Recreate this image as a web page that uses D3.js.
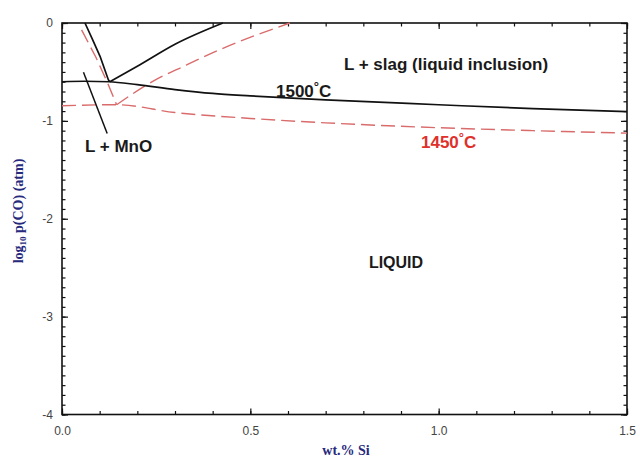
<!DOCTYPE html>
<html>
<head>
<meta charset="utf-8">
<script src="https://cdn.jsdelivr.net/npm/d3@7"></script>
<style>
  html, body { margin: 0; padding: 0; background: #fff; }
  svg { display: block; }
  .tick text { font-family: "Liberation Sans", Arial, sans-serif; font-size: 12px; fill: #444; }
</style>
</head>
<body>
<svg id="chart" width="640" height="460"></svg>
<script>
// Phase boundaries of Fe–Si–Mn–O melt: log10 p(CO) vs wt.% Si

// 1500 °C, liquid / L + slag boundary (lower branch)
const slag1500Si  = [0, 0.06, 0.125, 0.2, 0.3, 0.4, 0.5, 0.7, 1.0, 1.25, 1.5];
const slag1500Pco = [-0.60, -0.595, -0.60, -0.63, -0.68, -0.72, -0.745, -0.785, -0.835, -0.875, -0.905];
// 1500 °C, upper branch rising from the triple point
const upper1500Si  = [0.127, 0.207, 0.3, 0.427];
const upper1500Pco = [-0.60, -0.426, -0.217, 0];
// 1500 °C, steep MnO boundary
const mno1500Si  = [0.061, 0.08, 0.101, 0.123, 0.127];
const mno1500Pco = [0, -0.16, -0.34, -0.58, -0.60];

// 1450 °C, liquid / L + slag boundary
const slag1450Si  = [0, 0.145, 0.3, 0.5, 0.7, 1.0, 1.25, 1.5];
const slag1450Pco = [-0.845, -0.835, -0.915, -0.975, -1.02, -1.07, -1.10, -1.125];
// 1450 °C, upper branch
const upper1450Si  = [0.145, 0.241, 0.33, 0.419, 0.605];
const upper1450Pco = [-0.835, -0.596, -0.43, -0.272, 0];
// 1450 °C, steep MnO boundary
const mno1450Si  = [0.052, 0.09, 0.123, 0.145];
const mno1450Pco = [-0.07, -0.35, -0.63, -0.835];

// leader line for the "L + MnO" label
const leaderSi  = [0.057, 0.12];
const leaderPco = [-0.504, -1.13];

// axis ticks
const xMajorTicks = [0, 0.5, 1.0, 1.5];
const xTickLabels = ["0.0", "0.5", "1.0", "1.5"];
const yMajorTicks = [0, -1, -2, -3, -4];
const yTickLabels = ["0", "-1", "-2", "-3", "-4"];

const svg = d3.select("#chart");
const plotLeft = 62, plotRight = 627, plotTop = 23, plotBottom = 414.5;

const x = d3.scaleLinear().domain([0, 1.5]).range([plotLeft, plotRight]);
const y = d3.scaleLinear().domain([-4, 0]).range([plotBottom, plotTop]);

const xMinor = d3.range(0, 1.5001, 0.1).map(v => +v.toFixed(2));
const yMinor = d3.range(-4, 0.0001, 0.1).map(v => +v.toFixed(2));

// frame
svg.append("rect")
  .attr("x", plotLeft).attr("y", plotTop)
  .attr("width", plotRight - plotLeft).attr("height", plotBottom - plotTop)
  .attr("fill", "none").attr("stroke", "#111").attr("stroke-width", 1.6);

function styleAxis(g) {
  g.select(".domain").remove();
  g.selectAll(".tick line").attr("stroke", "#111").attr("stroke-width", 1.2);
}

// bottom axis (inward ticks)
svg.append("g").attr("transform", `translate(0,${plotBottom})`)
  .call(d3.axisBottom(x).tickValues(xMinor).tickSize(-3.5).tickFormat(""))
  .call(styleAxis);
svg.append("g").attr("transform", `translate(0,${plotBottom})`)
  .call(d3.axisBottom(x).tickValues(xMajorTicks).tickSize(-6).tickPadding(12)
    .tickFormat((d, i) => xTickLabels[i]))
  .call(styleAxis);
// top axis
svg.append("g").attr("transform", `translate(0,${plotTop})`)
  .call(d3.axisTop(x).tickValues(xMinor).tickSize(-3.5).tickFormat(""))
  .call(styleAxis);
svg.append("g").attr("transform", `translate(0,${plotTop})`)
  .call(d3.axisTop(x).tickValues(xMajorTicks).tickSize(-6).tickFormat(""))
  .call(styleAxis);
// left axis
svg.append("g").attr("transform", `translate(${plotLeft},0)`)
  .call(d3.axisLeft(y).tickValues(yMinor).tickSize(-3.5).tickFormat(""))
  .call(styleAxis);
svg.append("g").attr("transform", `translate(${plotLeft},0)`)
  .call(d3.axisLeft(y).tickValues(yMajorTicks).tickSize(-6).tickPadding(9)
    .tickFormat((d, i) => yTickLabels[i]))
  .call(styleAxis);
// right axis
svg.append("g").attr("transform", `translate(${plotRight},0)`)
  .call(d3.axisRight(y).tickValues(yMinor).tickSize(-3.5).tickFormat(""))
  .call(styleAxis);
svg.append("g").attr("transform", `translate(${plotRight},0)`)
  .call(d3.axisRight(y).tickValues(yMajorTicks).tickSize(-6).tickFormat(""))
  .call(styleAxis);

// boundary curves
const line = d3.line().x(d => x(d[0])).y(d => y(d[1])).curve(d3.curveMonotoneX);
const straight = d3.line().x(d => x(d[0])).y(d => y(d[1])).curve(d3.curveLinear);
const zip = (a, b) => a.map((v, i) => [v, b[i]]);

const dashed = { stroke: "#da6b6b", width: 1.4, dash: "14,6" };
const solid = { stroke: "#111", width: 1.7, dash: null };

function drawCurve(xs, ys, st, gen) {
  svg.append("path")
    .attr("d", gen(zip(xs, ys)))
    .attr("fill", "none")
    .attr("stroke", st.stroke)
    .attr("stroke-width", st.width)
    .attr("stroke-dasharray", st.dash)
    .attr("stroke-linejoin", "round");
}

drawCurve(slag1450Si, slag1450Pco, dashed, line);
drawCurve(upper1450Si, upper1450Pco, dashed, line);
drawCurve(mno1450Si, mno1450Pco, dashed, straight);

drawCurve(slag1500Si, slag1500Pco, solid, line);
drawCurve(upper1500Si, upper1500Pco, solid, line);
drawCurve(mno1500Si, mno1500Pco, solid, straight);
drawCurve(leaderSi, leaderPco, { stroke: "#111", width: 1.5, dash: null }, straight);

// region and isotherm labels
const labelFont = "'Liberation Sans', Arial, sans-serif";
function label(txt, px, py, color, anchor, size) {
  return svg.append("text")
    .attr("x", px).attr("y", py)
    .attr("text-anchor", anchor || "start")
    .attr("font-family", labelFont)
    .attr("font-size", size || 17)
    .attr("font-weight", "bold")
    .attr("fill", color)
    .text(txt);
}

label("L + slag (liquid inclusion)", 446, 70, "#1a1a1a", "middle");
label("L + MnO", 85, 152, "#1a1a1a", "start");
label("LIQUID", 396, 268, "#1a1a1a", "middle", 16);

function isoLabel(temp, px, py, color) {
  const t = label(null, px, py, color, "start");
  t.append("tspan").text(temp);
  t.append("tspan").attr("dy", -6).attr("font-size", 13).text("°");
  t.append("tspan").attr("dy", 6).text("C");
}
isoLabel("1500", 276, 97, "#1a1a1a");
isoLabel("1450", 421, 148, "#e0302a");

// axis titles
const titleColor = "#27297d";
const titleFont = "'Liberation Serif', 'Times New Roman', serif";
svg.append("text")
  .attr("x", 346).attr("y", 455)
  .attr("text-anchor", "middle")
  .attr("font-family", titleFont).attr("font-size", 14).attr("font-weight", "bold")
  .attr("fill", titleColor)
  .text("wt.% Si");

const yt = svg.append("text")
  .attr("transform", "translate(23,211) rotate(-90)")
  .attr("text-anchor", "middle")
  .attr("font-family", titleFont).attr("font-size", 14).attr("font-weight", "bold")
  .attr("fill", titleColor);
yt.append("tspan").text("log");
yt.append("tspan").attr("dy", 3).attr("font-size", 9).text("10");
yt.append("tspan").attr("dy", -3).text(" p(CO) (atm)");
</script>
</body>
</html>
